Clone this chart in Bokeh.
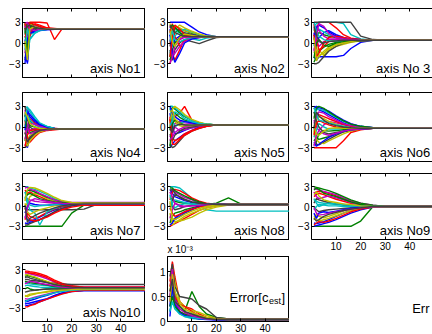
from bokeh.plotting import figure
from bokeh.models import Label, LinearAxis, FixedTicker, Range1d, Title
from bokeh.layouts import row, column
from bokeh.embed import file_html
from bokeh.resources import INLINE

# iteration index at which each trajectory value was read
X = [1, 2, 3, 5, 7, 10, 13, 16, 20, 25, 30, 50]

P1 = [
    [0.5, -3.0, 1.5, 2.2, 2.0, 2.0, 2.0, 2.0, 2.0, 2.0, 2.0, 2.0],
    [2.8, 0.0, 2.6, 2.4, 2.2, 2.1, 2.0, 2.0, 2.0, 2.0, 2.0, 2.0],
    [2.0, 2.9, 3.0, 3.0, 3.0, 2.9, 0.5, 2.0, 2.0, 2.0, 2.0, 2.0],
    [1.0, -1.0, 1.2, 1.6, 1.9, 2.0, 2.0, 2.0, 2.0, 2.0, 2.0, 2.0],
    [-1.5, 2.0, 2.4, 2.1, 2.0, 2.0, 2.0, 2.0, 2.0, 2.0, 2.0, 2.0],
    [3.0, 1.5, 2.7, 2.3, 2.1, 2.0, 2.0, 2.0, 2.0, 2.0, 2.0, 2.0],
    [-2.5, 1.0, 2.2, 2.0, 2.0, 2.0, 2.0, 2.0, 2.0, 2.0, 2.0, 2.0],
    [-2.0, -2.8, 1.8, 1.5, 1.8, 1.9, 2.0, 2.0, 2.0, 2.0, 2.0, 2.0],
    [1.5, 2.7, 2.9, 2.6, 2.3, 2.1, 2.0, 2.0, 2.0, 2.0, 2.0, 2.0],
    [3.0, -0.5, 1.0, 2.8, 2.6, 2.2, 2.1, 2.0, 2.0, 2.0, 2.0, 2.0],
    [0.0, -2.0, 0.5, 1.4, 1.8, 2.0, 2.0, 2.0, 2.0, 2.0, 2.0, 2.0],
    [2.5, 0.5, 1.8, 2.5, 2.2, 2.0, 2.0, 2.0, 2.0, 2.0, 2.0, 2.0],
    [-0.5, 2.5, 2.8, 2.2, 2.0, 2.0, 2.0, 2.0, 2.0, 2.0, 2.0, 2.0],
    [1.2, 2.9, 2.5, 2.1, 2.0, 2.0, 2.0, 2.0, 2.0, 2.0, 2.0, 2.0],
    [-3.0, 0.5, 1.4, 1.7, 1.9, 2.0, 2.0, 2.0, 2.0, 2.0, 2.0, 2.0],
    [2.2, -1.5, 2.4, 2.3, 2.1, 2.0, 2.0, 2.0, 2.0, 2.0, 2.0, 2.0],
    [0.8, 1.8, 2.9, 2.7, 2.4, 2.1, 2.0, 2.0, 2.0, 2.0, 2.0, 2.0],
    [-1.0, 2.2, 0.6, 1.5, 1.9, 2.0, 2.0, 2.0, 2.0, 2.0, 2.0, 2.0],
    [2.9, 3.0, 2.0, 1.8, 2.0, 2.0, 2.0, 2.0, 2.0, 2.0, 2.0, 2.0],
    [0.3, -2.5, 2.0, 2.4, 2.1, 2.0, 2.0, 2.0, 2.0, 2.0, 2.0, 2.0],
    [1.8, 2.4, 2.6, 2.3, 2.1, 2.0, 2.0, 2.0, 2.0, 2.0, 2.0, 2.0],
]

P2 = [
    [3.0, 3.0, 3.0, 3.0, 3.0, 2.3, 1.6, 1.2, 0.9, 0.9, 0.9, 0.9],
    [-2.0, 0.5, 1.5, 2.0, 1.8, 1.4, 1.1, 1.0, 0.9, 0.9, 0.9, 0.9],
    [-3.0, -1.5, -2.5, -1.0, 0.5, 0.8, 0.9, 0.9, 0.9, 0.9, 0.9, 0.9],
    [1.0, 2.5, 2.0, 1.5, 1.2, 0.6, 0.4, 0.7, 0.9, 0.9, 0.9, 0.9],
    [2.5, 1.0, 0.0, 0.5, 1.0, 1.2, 1.0, 0.9, 0.9, 0.9, 0.9, 0.9],
    [0.0, 2.0, 2.5, 2.2, 1.8, 1.5, 1.2, 1.0, 0.9, 0.9, 0.9, 0.9],
    [-1.0, -2.5, -1.0, 0.0, 0.5, 0.2, -0.1, 0.3, 0.8, 0.9, 0.9, 0.9],
    [2.0, -0.5, 0.5, 1.0, 1.4, 1.2, 1.0, 0.9, 0.9, 0.9, 0.9, 0.9],
    [-2.5, -1.0, 0.0, 0.8, 1.1, 1.0, 0.9, 0.9, 0.9, 0.9, 0.9, 0.9],
    [1.5, 2.8, 1.0, -0.5, 0.3, 0.7, 0.9, 0.9, 0.9, 0.9, 0.9, 0.9],
    [-1.5, 0.0, 1.0, 1.7, 2.0, 1.6, 1.2, 1.0, 0.9, 0.9, 0.9, 0.9],
    [0.5, -2.0, -1.5, -0.5, 0.2, 0.6, 0.8, 0.9, 0.9, 0.9, 0.9, 0.9],
    [2.8, 1.5, 2.0, 2.6, 2.2, 1.7, 1.3, 1.0, 0.9, 0.9, 0.9, 0.9],
    [-0.5, 1.0, 2.2, 1.8, 1.5, 1.2, 1.0, 0.9, 0.9, 0.9, 0.9, 0.9],
    [1.2, -1.5, -2.8, -1.5, 0.0, 0.6, 0.8, 0.9, 0.9, 0.9, 0.9, 0.9],
    [2.2, 2.6, 2.3, 1.5, 1.0, 0.9, 0.9, 0.9, 0.9, 0.9, 0.9, 0.9],
    [-2.0, 0.8, 2.6, 2.0, 1.2, 1.0, 0.9, 0.9, 0.9, 0.9, 0.9, 0.9],
    [0.2, 1.8, 0.5, 0.2, 0.5, 0.8, 0.9, 0.9, 0.9, 0.9, 0.9, 0.9],
    [-3.0, -2.0, -0.5, 0.5, 0.8, 0.9, 0.9, 0.9, 0.9, 0.9, 0.9, 0.9],
    [1.8, 0.2, -0.5, 0.8, 1.3, 1.1, 0.9, 0.9, 0.9, 0.9, 0.9, 0.9],
    [2.6, 2.0, 1.5, 1.2, 1.0, 0.9, 0.9, 0.9, 0.9, 0.9, 0.9, 0.9],
]

P3 = [
    [-2.0, -2.5, -2.0, -2.0, -2.0, -2.0, -1.8, -0.8, 0.1, 0.4, 0.4, 0.4],
    [2.0, 1.0, 1.5, 1.2, 1.0, 0.8, 0.6, 0.5, 0.4, 0.4, 0.4, 0.4],
    [1.0, 2.0, 3.0, 3.0, 3.0, 2.2, 1.2, 0.7, 0.5, 0.4, 0.4, 0.4],
    [2.5, 2.8, 3.0, 3.0, 3.0, 3.0, 2.8, 1.2, 0.6, 0.4, 0.4, 0.4],
    [-1.0, 0.5, -0.5, 0.2, 0.5, 0.6, 0.5, 0.4, 0.4, 0.4, 0.4, 0.4],
    [0.0, -1.5, -1.0, -1.8, -1.0, -0.5, -0.2, 0.1, 0.3, 0.4, 0.4, 0.4],
    [3.0, 3.0, 3.0, 3.0, 3.0, 3.0, 3.0, 3.0, 1.0, 0.5, 0.4, 0.4],
    [1.5, -0.5, 0.8, 1.5, 1.8, 1.2, 0.8, 0.6, 0.5, 0.4, 0.4, 0.4],
    [-2.8, -2.0, -1.2, -0.6, -0.2, 0.1, 0.3, 0.4, 0.4, 0.4, 0.4, 0.4],
    [2.8, 0.5, -1.0, -0.5, 0.2, 0.5, 0.6, 0.5, 0.4, 0.4, 0.4, 0.4],
    [-0.5, 1.5, 2.0, 1.6, 1.2, 0.9, 0.7, 0.5, 0.4, 0.4, 0.4, 0.4],
    [2.0, 2.5, 1.8, 1.0, 0.6, 0.5, 0.4, 0.4, 0.4, 0.4, 0.4, 0.4],
    [-1.5, -0.5, -2.0, -1.2, -0.6, -0.2, 0.1, 0.3, 0.4, 0.4, 0.4, 0.4],
    [-3.0, -3.0, -2.8, -2.0, -1.2, -0.5, 0.0, 0.2, 0.3, 0.4, 0.4, 0.4],
    [0.5, 2.2, 2.6, 2.2, 1.6, 1.0, 0.7, 0.5, 0.4, 0.4, 0.4, 0.4],
    [-2.2, 0.0, 0.5, -0.3, -0.5, 0.0, 0.2, 0.3, 0.4, 0.4, 0.4, 0.4],
    [1.2, -2.0, -1.5, 0.0, 0.8, 1.0, 0.8, 0.6, 0.5, 0.4, 0.4, 0.4],
    [3.0, 1.8, 1.0, 0.5, 0.3, 0.3, 0.4, 0.4, 0.4, 0.4, 0.4, 0.4],
    [-1.2, 1.0, 2.8, 2.4, 1.4, 0.8, 0.6, 0.5, 0.4, 0.4, 0.4, 0.4],
    [0.8, -2.6, -1.8, -1.5, -0.8, -0.3, 0.0, 0.2, 0.4, 0.4, 0.4, 0.4],
    [2.4, 1.2, 0.2, 0.0, 0.2, 0.3, 0.4, 0.4, 0.4, 0.4, 0.4, 0.4],
]

P4 = [
    [-2.5, -3.0, -1.5, -0.8, -0.5, -0.4, -0.3, -0.3, -0.3, -0.3, -0.3, -0.3],
    [2.0, 1.0, 0.8, 0.5, 0.2, 0.0, -0.2, -0.3, -0.3, -0.3, -0.3, -0.3],
    [3.0, 2.0, 1.2, 0.6, 0.3, -0.1, -0.2, -0.3, -0.3, -0.3, -0.3, -0.3],
    [2.8, 2.9, 2.2, 1.2, 0.5, 0.1, -0.2, -0.3, -0.3, -0.3, -0.3, -0.3],
    [-1.0, 0.5, -0.5, -0.2, -0.3, -0.3, -0.3, -0.3, -0.3, -0.3, -0.3, -0.3],
    [0.5, -1.8, -1.2, -0.9, -0.6, -0.4, -0.3, -0.3, -0.3, -0.3, -0.3, -0.3],
    [-3.0, -2.5, -1.8, -1.0, -0.6, -0.4, -0.3, -0.3, -0.3, -0.3, -0.3, -0.3],
    [1.5, 2.5, 1.5, 0.8, 0.3, 0.0, -0.2, -0.3, -0.3, -0.3, -0.3, -0.3],
    [-2.0, -0.5, 0.2, 0.0, -0.2, -0.3, -0.3, -0.3, -0.3, -0.3, -0.3, -0.3],
    [1.0, -1.5, -2.2, -1.4, -0.8, -0.5, -0.4, -0.3, -0.3, -0.3, -0.3, -0.3],
    [0.0, 1.8, 1.0, 0.3, 0.0, -0.2, -0.3, -0.3, -0.3, -0.3, -0.3, -0.3],
    [2.5, 0.0, 0.5, 0.4, 0.1, -0.1, -0.2, -0.3, -0.3, -0.3, -0.3, -0.3],
    [-1.5, -2.8, -2.0, -1.2, -0.7, -0.4, -0.3, -0.3, -0.3, -0.3, -0.3, -0.3],
    [3.0, 1.2, 0.0, -0.5, -0.5, -0.4, -0.3, -0.3, -0.3, -0.3, -0.3, -0.3],
    [-0.5, 2.2, 1.8, 1.0, 0.4, 0.0, -0.2, -0.3, -0.3, -0.3, -0.3, -0.3],
    [1.8, -0.8, -0.8, -0.6, -0.4, -0.3, -0.3, -0.3, -0.3, -0.3, -0.3, -0.3],
    [-2.8, -1.2, -0.5, -0.4, -0.3, -0.3, -0.3, -0.3, -0.3, -0.3, -0.3, -0.3],
    [0.8, 2.8, 2.5, 1.5, 0.6, 0.1, -0.2, -0.3, -0.3, -0.3, -0.3, -0.3],
    [-1.8, 0.0, -1.0, -0.7, -0.5, -0.4, -0.3, -0.3, -0.3, -0.3, -0.3, -0.3],
    [2.2, 1.5, 0.5, 0.0, -0.2, -0.3, -0.3, -0.3, -0.3, -0.3, -0.3, -0.3],
    [-0.8, -2.2, -1.5, -0.9, -0.5, -0.3, -0.3, -0.3, -0.3, -0.3, -0.3, -0.3],
]

P5 = [
    [-3.0, -2.5, -2.0, -1.5, -1.0, -0.5, 0.0, 0.2, 0.3, 0.3, 0.3, 0.3],
    [2.5, 2.8, 2.6, 2.0, 1.5, 1.0, 0.6, 0.4, 0.3, 0.3, 0.3, 0.3],
    [1.0, 0.5, 1.5, 2.0, 3.0, 1.0, 0.5, 0.3, 0.3, 0.3, 0.3, 0.3],
    [3.0, 3.0, 2.8, 2.2, 1.6, 1.0, 0.6, 0.4, 0.3, 0.3, 0.3, 0.3],
    [-1.5, -0.5, 0.5, 0.8, 0.6, 0.5, 0.4, 0.3, 0.3, 0.3, 0.3, 0.3],
    [0.0, 1.5, 0.8, 0.2, 0.0, 0.1, 0.2, 0.3, 0.3, 0.3, 0.3, 0.3],
    [-2.5, -3.0, -2.8, -2.0, -1.2, -0.6, -0.2, 0.1, 0.3, 0.3, 0.3, 0.3],
    [2.0, 0.0, -1.0, -0.8, -0.5, -0.1, 0.1, 0.2, 0.3, 0.3, 0.3, 0.3],
    [-0.5, 2.2, 2.0, 1.4, 1.0, 0.7, 0.5, 0.4, 0.3, 0.3, 0.3, 0.3],
    [1.5, -1.5, -2.0, -1.6, -1.0, -0.5, -0.1, 0.1, 0.3, 0.3, 0.3, 0.3],
    [2.8, 1.0, 0.0, 0.5, 0.8, 0.7, 0.5, 0.4, 0.3, 0.3, 0.3, 0.3],
    [-2.0, -1.0, 0.0, -0.5, -0.4, -0.1, 0.1, 0.2, 0.3, 0.3, 0.3, 0.3],
    [0.5, 2.6, 3.0, 2.5, 1.8, 1.1, 0.7, 0.4, 0.3, 0.3, 0.3, 0.3],
    [-1.0, -2.0, -1.2, -0.6, -0.2, 0.0, 0.2, 0.3, 0.3, 0.3, 0.3, 0.3],
    [3.0, 2.0, 1.5, 1.0, 0.8, 0.6, 0.4, 0.3, 0.3, 0.3, 0.3, 0.3],
    [-2.8, 0.5, 1.0, 0.6, 0.3, 0.2, 0.3, 0.3, 0.3, 0.3, 0.3, 0.3],
    [1.2, -2.5, -2.5, -1.8, -1.2, -0.6, -0.2, 0.1, 0.3, 0.3, 0.3, 0.3],
    [0.2, 1.0, 2.2, 1.8, 1.2, 0.8, 0.5, 0.4, 0.3, 0.3, 0.3, 0.3],
    [-1.8, -1.5, -0.8, -0.3, 0.0, 0.2, 0.3, 0.3, 0.3, 0.3, 0.3, 0.3],
    [2.2, 2.4, 1.2, 0.5, 0.2, 0.2, 0.3, 0.3, 0.3, 0.3, 0.3, 0.3],
    [-0.2, -0.8, 0.2, 0.4, 0.3, 0.3, 0.3, 0.3, 0.3, 0.3, 0.3, 0.3],
]

P6 = [
    [3.0, 2.8, 2.5, 2.2, 1.8, 1.2, 0.6, 0.2, 0.0, -0.1, -0.2, -0.2],
    [-2.0, -1.5, -1.8, -1.6, -1.4, -1.0, -0.7, -0.5, -0.3, -0.2, -0.2, -0.2],
    [-3.0, -3.0, -3.0, -3.0, -3.0, -3.0, -2.0, -0.8, -0.4, -0.2, -0.2, -0.2],
    [2.0, 2.5, 2.6, 2.4, 2.0, 1.4, 0.8, 0.4, 0.1, -0.1, -0.2, -0.2],
    [1.0, 0.0, -0.5, 0.3, 0.8, 0.6, 0.3, 0.1, -0.1, -0.2, -0.2, -0.2],
    [-1.0, 1.0, 1.5, 1.2, 0.8, 0.4, 0.1, -0.1, -0.2, -0.2, -0.2, -0.2],
    [0.0, -2.5, -2.6, -2.2, -1.8, -1.2, -0.7, -0.4, -0.3, -0.2, -0.2, -0.2],
    [2.6, 3.0, 2.8, 2.6, 2.3, 1.6, 1.0, 0.5, 0.1, -0.1, -0.2, -0.2],
    [-2.6, -2.0, -1.0, -0.5, -0.6, -0.5, -0.4, -0.3, -0.2, -0.2, -0.2, -0.2],
    [1.5, 2.0, 1.8, 1.5, 1.2, 0.8, 0.4, 0.1, -0.1, -0.2, -0.2, -0.2],
    [-1.5, -0.5, 0.5, 0.0, -0.3, -0.3, -0.2, -0.2, -0.2, -0.2, -0.2, -0.2],
    [0.5, 1.5, 2.2, 2.0, 1.5, 1.0, 0.5, 0.2, 0.0, -0.1, -0.2, -0.2],
    [-0.5, -1.8, -2.2, -2.4, -2.0, -1.5, -1.0, -0.6, -0.3, -0.2, -0.2, -0.2],
    [2.2, 0.8, 0.0, -0.8, -1.0, -0.8, -0.6, -0.4, -0.3, -0.2, -0.2, -0.2],
    [-2.2, -2.8, -2.5, -2.0, -1.5, -1.0, -0.6, -0.4, -0.3, -0.2, -0.2, -0.2],
    [1.2, 2.8, 3.0, 2.7, 2.2, 1.5, 0.9, 0.4, 0.1, -0.1, -0.2, -0.2],
    [-1.2, 0.5, 1.0, 0.6, 0.3, 0.0, -0.1, -0.2, -0.2, -0.2, -0.2, -0.2],
    [2.8, 1.8, 1.0, 0.8, 0.6, 0.3, 0.1, -0.1, -0.2, -0.2, -0.2, -0.2],
    [-2.8, -1.2, -0.5, -1.0, -1.2, -0.9, -0.6, -0.4, -0.3, -0.2, -0.2, -0.2],
    [0.2, -1.0, -1.2, -0.6, -0.2, -0.1, -0.2, -0.2, -0.2, -0.2, -0.2, -0.2],
    [-0.2, 2.2, 1.6, 1.0, 0.5, 0.2, 0.0, -0.1, -0.2, -0.2, -0.2, -0.2],
]

P7 = [
    [-2.5, -2.6, -2.4, -2.2, -2.0, -1.5, -0.8, -0.3, 0.1, 0.3, 0.3, 0.3],
    [-3.0, -3.0, -3.0, -3.0, -3.0, -3.0, -3.0, -3.0, -1.0, 0.2, 0.3, 0.3],
    [2.5, 2.0, 2.2, 1.8, 1.5, 1.0, 0.6, 0.4, 0.4, 0.4, 0.4, 0.4],
    [3.0, 3.0, 2.8, 2.6, 2.3, 1.8, 1.2, 0.8, 0.5, 0.4, 0.4, 0.4],
    [1.0, 1.2, 1.0, 0.8, 0.7, 0.6, 0.5, 0.5, 0.5, 0.5, 0.5, 0.5],
    [0.0, 0.5, 1.5, 2.0, 1.8, 1.2, 0.8, 0.6, 0.5, 0.5, 0.5, 0.5],
    [-0.5, -0.5, -0.5, -0.5, -0.5, -0.5, -0.5, -0.5, -0.5, -0.4, 0.3, 0.3],
    [-1.5, -2.0, -2.2, -2.0, -1.6, -1.0, -0.5, 0.0, 0.2, 0.3, 0.3, 0.3],
    [2.0, 2.4, 2.5, 2.2, 1.9, 1.4, 1.0, 0.7, 0.5, 0.5, 0.5, 0.5],
    [-2.0, -1.0, -1.5, -1.8, -1.5, -0.9, -0.4, 0.0, 0.2, 0.3, 0.3, 0.3],
    [1.5, 0.5, -0.5, -1.0, -2.8, -0.8, -0.3, 0.1, 0.3, 0.3, 0.3, 0.3],
    [2.8, 2.9, 2.6, 2.4, 2.0, 1.5, 1.0, 0.7, 0.6, 0.6, 0.6, 0.6],
    [0.5, -0.8, -1.2, -0.8, -0.5, -0.2, 0.1, 0.2, 0.3, 0.3, 0.3, 0.3],
    [-2.8, -2.8, -2.6, -2.3, -2.0, -1.4, -0.8, -0.3, 0.1, 0.3, 0.3, 0.3],
    [-1.0, 0.0, 0.5, 0.3, 0.2, 0.2, 0.3, 0.3, 0.3, 0.3, 0.3, 0.3],
    [1.2, 1.8, 2.0, 1.6, 1.2, 0.9, 0.7, 0.6, 0.5, 0.5, 0.5, 0.5],
    [-0.2, -1.5, -2.0, -2.2, -2.0, -1.6, -1.0, -0.5, -0.1, 0.2, 0.2, 0.2],
    [2.2, 1.0, 0.2, 0.0, 0.1, 0.2, 0.3, 0.4, 0.4, 0.4, 0.4, 0.4],
    [-1.8, -0.2, 0.8, 1.2, 1.0, 0.8, 0.6, 0.5, 0.4, 0.4, 0.4, 0.4],
    [0.8, 2.6, 2.9, 2.8, 2.5, 2.0, 1.4, 0.9, 0.6, 0.5, 0.5, 0.5],
    [0.2, -2.4, -1.8, -1.4, -1.0, -0.6, -0.2, 0.1, 0.3, 0.4, 0.4, 0.4],
]

P8 = [
    [-2.0, -2.2, -2.0, -1.5, -1.0, -0.5, 0.0, 0.2, 0.3, 0.3, 0.3, 0.3],
    [1.5, 1.0, 0.8, 0.6, 0.5, 0.4, 0.3, 0.3, 0.5, 1.3, 0.4, 0.3],
    [-3.0, -2.8, -2.6, -2.2, -1.8, -1.2, -0.6, -0.2, 0.1, 0.3, 0.3, 0.3],
    [3.0, 3.0, 3.0, 2.8, 2.2, 1.2, 0.2, -0.5, -0.7, -0.7, -0.7, -0.7],
    [2.0, 2.5, 2.2, 1.8, 1.4, 1.0, 0.6, 0.4, 0.3, 0.3, 0.3, 0.3],
    [-1.5, -2.0, -2.3, -2.2, -2.0, -1.6, -1.0, -0.5, -0.1, 0.2, 0.3, 0.3],
    [0.5, 0.0, -0.5, -0.3, 0.0, 0.2, 0.3, 0.3, 0.3, 0.3, 0.3, 0.3],
    [2.6, 2.0, 1.5, 1.2, 0.9, 0.6, 0.4, 0.3, 0.3, 0.3, 0.3, 0.3],
    [-2.5, -1.5, -1.0, -0.8, -0.5, -0.2, 0.1, 0.2, 0.3, 0.3, 0.3, 0.3],
    [1.0, 2.2, 2.6, 2.4, 2.0, 1.3, 0.8, 0.5, 0.3, 0.3, 0.3, 0.3],
    [-0.5, 0.5, 1.0, 0.8, 0.6, 0.4, 0.3, 0.3, 0.3, 0.3, 0.3, 0.3],
    [2.2, 1.5, 0.5, 0.0, 0.0, 0.1, 0.2, 0.3, 0.3, 0.3, 0.3, 0.3],
    [-1.0, -2.8, -2.5, -2.0, -1.5, -1.0, -0.6, -0.2, 0.1, 0.3, 0.3, 0.3],
    [0.0, 1.0, 1.8, 1.5, 1.1, 0.7, 0.5, 0.4, 0.3, 0.3, 0.3, 0.3],
    [-2.8, -2.5, -1.8, -1.2, -0.8, -0.4, 0.0, 0.2, 0.3, 0.3, 0.3, 0.3],
    [2.8, 2.8, 2.4, 2.0, 1.6, 1.1, 0.7, 0.4, 0.3, 0.3, 0.3, 0.3],
    [-0.2, -1.0, -1.5, -1.2, -0.8, -0.4, -0.1, 0.1, 0.3, 0.3, 0.3, 0.3],
    [1.8, 0.2, -0.2, 0.2, 0.4, 0.4, 0.3, 0.3, 0.3, 0.3, 0.3, 0.3],
    [-1.8, -0.5, 0.5, 0.2, 0.0, 0.1, 0.2, 0.3, 0.3, 0.3, 0.3, 0.3],
    [0.8, -1.8, -2.0, -1.6, -1.2, -0.7, -0.3, 0.0, 0.2, 0.3, 0.3, 0.3],
    [2.4, 2.6, 2.0, 1.4, 1.0, 0.7, 0.5, 0.4, 0.3, 0.3, 0.3, 0.3],
]

P9 = [
    [-2.5, -2.6, -2.5, -2.3, -2.0, -1.5, -1.0, -0.6, -0.2, 0.0, 0.0, 0.0],
    [-3.0, -3.0, -3.0, -3.0, -3.0, -3.0, -3.0, -3.0, -2.2, 0.0, 0.0, 0.0],
    [2.0, 2.2, 2.3, 2.2, 2.0, 1.6, 1.2, 0.8, 0.4, 0.1, 0.0, 0.0],
    [1.0, 0.8, 0.6, 0.5, 0.4, 0.3, 0.2, 0.1, 0.0, 0.0, 0.0, 0.0],
    [2.8, 2.6, 2.5, 2.3, 2.1, 1.8, 1.3, 0.9, 0.5, 0.2, 0.0, 0.0],
    [-1.5, -2.0, -2.2, -2.0, -1.8, -1.4, -1.0, -0.6, -0.3, -0.1, 0.0, 0.0],
    [0.0, -0.5, -0.8, -0.6, -0.5, -0.4, -0.3, -0.2, -0.1, 0.0, 0.0, 0.0],
    [-3.0, -2.9, -2.8, -2.6, -2.4, -2.0, -1.5, -1.0, -0.5, -0.1, 0.0, 0.0],
    [3.0, 2.9, 2.8, 2.6, 2.4, 2.0, 1.5, 1.0, 0.5, 0.2, 0.0, 0.0],
    [1.5, 1.8, 2.0, 1.8, 1.5, 1.1, 0.8, 0.5, 0.3, 0.1, 0.0, 0.0],
    [-0.5, 0.0, 0.3, 0.2, 0.1, 0.1, 0.0, 0.0, 0.0, 0.0, 0.0, 0.0],
    [2.2, 1.5, 1.2, 1.4, 1.6, 1.3, 1.0, 0.6, 0.3, 0.1, 0.0, 0.0],
    [-2.0, -1.2, -1.5, -1.7, -1.5, -1.1, -0.7, -0.4, -0.2, 0.0, 0.0, 0.0],
    [0.5, 1.2, 1.0, 0.8, 0.6, 0.4, 0.3, 0.2, 0.1, 0.0, 0.0, 0.0],
    [-1.0, -1.8, -1.0, -0.8, -0.9, -0.7, -0.5, -0.3, -0.1, 0.0, 0.0, 0.0],
    [2.5, 2.8, 2.6, 2.0, 1.8, 1.5, 1.1, 0.7, 0.3, 0.1, 0.0, 0.0],
    [-2.8, -2.5, -2.3, -2.4, -2.2, -1.8, -1.3, -0.8, -0.4, -0.1, 0.0, 0.0],
    [1.2, 0.5, 0.0, 0.3, 0.5, 0.4, 0.3, 0.2, 0.1, 0.0, 0.0, 0.0],
    [-0.2, -1.0, -1.3, -1.2, -1.0, -0.8, -0.6, -0.4, -0.2, -0.1, 0.0, 0.0],
    [1.8, 2.2, 1.6, 1.0, 0.8, 0.6, 0.4, 0.3, 0.1, 0.0, 0.0, 0.0],
    [-1.8, -2.2, -2.0, -1.5, -1.2, -0.9, -0.6, -0.4, -0.2, 0.0, 0.0, 0.0],
]

P10 = [
    [-2.2, -2.3, -2.2, -2.0, -1.8, -1.5, -1.0, -0.6, -0.3, -0.2, -0.2, -0.2],
    [2.0, 2.1, 2.0, 1.8, 1.5, 1.1, 0.7, 0.4, 0.2, 0.1, 0.1, 0.1],
    [2.8, 2.8, 2.7, 2.6, 2.4, 2.0, 1.4, 0.9, 0.5, 0.3, 0.3, 0.3],
    [1.0, 0.9, 0.8, 0.7, 0.6, 0.5, 0.4, 0.3, 0.2, 0.2, 0.2, 0.2],
    [2.5, 2.5, 2.4, 2.2, 2.0, 1.6, 1.1, 0.7, 0.4, 0.3, 0.3, 0.3],
    [-1.0, -1.2, -1.0, -0.8, -0.6, -0.4, -0.2, -0.1, 0.0, 0.0, 0.0, 0.0],
    [1.5, 1.5, 1.4, 1.3, 1.2, 1.0, 0.9, 0.8, 0.7, 0.7, 0.7, 0.7],
    [-2.5, -2.6, -2.5, -2.3, -2.0, -1.6, -1.1, -0.7, -0.4, -0.3, -0.3, -0.3],
    [0.0, 0.2, 0.0, -0.2, -0.1, 0.0, 0.1, 0.1, 0.1, 0.1, 0.1, 0.1],
    [-2.8, -2.8, -2.6, -2.4, -2.0, -1.6, -1.2, -0.8, -0.4, -0.2, -0.2, -0.2],
    [0.5, 0.6, 0.5, 0.4, 0.3, 0.2, 0.2, 0.2, 0.2, 0.2, 0.2, 0.2],
    [-1.5, -1.6, -1.5, -1.3, -1.1, -0.8, -0.5, -0.3, -0.1, 0.0, 0.0, 0.0],
    [2.2, 2.3, 2.1, 1.9, 1.6, 1.2, 0.8, 0.5, 0.3, 0.2, 0.2, 0.2],
    [-0.5, -0.4, -0.3, -0.2, -0.1, 0.0, 0.0, 0.0, 0.0, 0.0, 0.0, 0.0],
    [-1.8, -2.0, -1.8, -1.6, -1.3, -1.0, -0.6, -0.3, -0.1, 0.0, 0.0, 0.0],
    [1.2, 1.1, 1.0, 0.9, 0.8, 0.6, 0.4, 0.3, 0.2, 0.2, 0.2, 0.2],
    [2.7, 2.6, 2.5, 2.4, 2.2, 1.8, 1.2, 0.7, 0.4, 0.3, 0.3, 0.3],
    [-2.0, -1.8, -1.6, -1.4, -1.2, -0.9, -0.6, -0.4, -0.2, -0.1, -0.1, -0.1],
    [0.8, 1.0, 1.2, 1.1, 0.9, 0.7, 0.5, 0.3, 0.2, 0.2, 0.2, 0.2],
    [-1.2, -1.0, -0.8, -0.7, -0.6, -0.5, -0.3, -0.2, -0.1, 0.0, 0.0, 0.0],
    [1.8, 1.9, 1.7, 1.5, 1.3, 1.0, 0.7, 0.5, 0.3, 0.2, 0.2, 0.2],
]

# Error[c_est], in units of 1e-3
E = [
    [0.3, 1.0, 0.5, 0.2, 0.12, 0.08, 0.06, 0.05, 0.04, 0.03, 0.03, 0.03],
    [0.5, 0.8, 0.6, 0.3, 0.2, 0.6, 0.3, 0.15, 0.08, 0.05, 0.05, 0.05],
    [0.8, 1.2, 0.9, 0.4, 0.3, 0.25, 0.15, 0.08, 0.05, 0.04, 0.04, 0.04],
    [0.2, 0.6, 0.3, 0.15, 0.1, 0.06, 0.05, 0.05, 0.04, 0.04, 0.04, 0.04],
    [0.4, 0.9, 0.4, 0.2, 0.15, 0.1, 0.08, 0.05, 0.04, 0.04, 0.04, 0.04],
    [0.6, 1.1, 0.8, 0.4, 0.3, 0.22, 0.18, 0.12, 0.06, 0.04, 0.04, 0.04],
    [0.9, 1.15, 0.7, 0.5, 0.48, 0.45, 0.32, 0.25, 0.08, 0.05, 0.05, 0.05],
    [0.1, 0.7, 0.35, 0.18, 0.12, 0.08, 0.05, 0.04, 0.03, 0.03, 0.03, 0.03],
    [0.3, 0.5, 0.3, 0.2, 0.15, 0.12, 0.1, 0.07, 0.05, 0.04, 0.04, 0.04],
    [0.7, 1.0, 0.5, 0.35, 0.3, 0.2, 0.12, 0.07, 0.05, 0.04, 0.04, 0.04],
    [0.2, 0.4, 0.25, 0.15, 0.1, 0.08, 0.06, 0.05, 0.04, 0.04, 0.04, 0.04],
    [0.5, 1.05, 0.45, 0.25, 0.18, 0.12, 0.08, 0.05, 0.04, 0.04, 0.04, 0.04],
    [0.4, 0.95, 0.6, 0.35, 0.25, 0.18, 0.12, 0.08, 0.05, 0.04, 0.04, 0.04],
    [0.6, 0.85, 0.4, 0.3, 0.2, 0.15, 0.1, 0.06, 0.04, 0.04, 0.04, 0.04],
]

NAMES = ["axis No1", "axis No2", "axis No 3", "axis No4", "axis No5",
         "axis No6", "axis No7", "axis No8", "axis No9", "axis No10"]
X_TICKS = [10, 20, 30, 40]
Y_TICKS = [-3, 0, 3]
Y_LABELS = {-3: "\u22123", 0: "0", 3: "3"}
E_TICKS = [0, 0.5, 1]
E_LABELS = {0: "0", 0.5: "0.5", 1: "1"}
E_SCALE = "x 10\u207b\u00b3"

FONT = "Liberation Sans"
COLORS = ["#0000ff", "#008000", "#ff0000", "#00bfbf", "#bf00bf", "#bfbf00", "#404040"]


def style(ax, ticks, show, over=None):
    ax.ticker = FixedTicker(ticks=ticks)
    ax.axis_line_color = "black"
    ax.axis_line_width = 1
    ax.major_tick_line_color = "black"
    ax.major_tick_in = 3
    ax.major_tick_out = 0
    ax.minor_tick_line_color = None
    ax.major_label_text_font = FONT
    if show:
        ax.major_label_text_color = "black"
        ax.major_label_text_font_size = "10px"
        ax.major_label_standoff = 2
        if over:
            ax.major_label_overrides = over
    else:
        ax.major_label_text_color = None
        ax.major_label_text_alpha = 0
        ax.major_label_text_font_size = "1px"
        ax.major_label_standoff = 0


def panel(lines, w, h, bl, br, bt, bb, xmax, yr, yticks, ylab, show_x, cut=False):
    p = figure(width=w, height=h, x_range=Range1d(0, xmax), y_range=Range1d(*yr),
               output_backend="svg", toolbar_location=None,
               min_border_left=bl, min_border_right=br,
               min_border_top=bt, min_border_bottom=bb)
    p.grid.visible = False
    p.background_fill_color = "white"
    p.border_fill_color = "white"
    style(p.xaxis[0], X_TICKS, show_x)
    style(p.yaxis[0], yticks, True, ylab)
    top = LinearAxis()
    style(top, X_TICKS, False)
    p.add_layout(top, "above")
    if cut:
        # right side of this column is cut by the window edge: no right border
        p.outline_line_color = None
    else:
        p.outline_line_color = "black"
        p.outline_line_width = 1
    p.multi_line(xs=[X] * len(lines), ys=lines,
                 line_color=[COLORS[i % 7] for i in range(len(lines))], line_width=1.4)
    return p


def tag(p, text, x, y=-3.65):
    p.add_layout(Label(x=x, y=y, text=text, text_align="right", text_baseline="alphabetic",
                       text_font=FONT, text_font_size="13px", text_color="black"))


YR = (-5, 5)
C3X = 49.2
# column 1: x 0-145
f1 = panel(P1, 145, 84, 22, 0, 8, 7, 50, YR, Y_TICKS, Y_LABELS, False)
f4 = panel(P4, 145, 83, 22, 0, 8, 6, 50, YR, Y_TICKS, Y_LABELS, False)
f7 = panel(P7, 145, 82, 22, 0, 6, 10, 50, YR, Y_TICKS, Y_LABELS, False)
f10 = panel(P10, 145, 85, 22, 0, 14, 12, 50, (-5.1, 4.0), Y_TICKS, Y_LABELS, True)
# column 2: x 145-289
f2 = panel(P2, 144, 84, 22, 0, 8, 7, 50, YR, Y_TICKS, Y_LABELS, False)
f5 = panel(P5, 144, 83, 22, 0, 8, 6, 50, YR, Y_TICKS, Y_LABELS, False)
f8 = panel(P8, 144, 73, 22, 0, 6, 1, 50, YR, Y_TICKS, Y_LABELS, False)
fe = panel(E, 144, 94, 22, 0, 14, 13, 50, (0, 1.3), E_TICKS, E_LABELS, True)
# column 3: x 289-432 (cut by the window edge)
f3 = panel(P3, 143, 84, 22, 0, 8, 7, C3X, YR, Y_TICKS, Y_LABELS, False, cut=True)
f6 = panel(P6, 143, 83, 22, 0, 8, 6, C3X, YR, Y_TICKS, Y_LABELS, False, cut=True)
f9 = panel(P9, 143, 87, 22, 0, 6, 15, C3X, YR, Y_TICKS, Y_LABELS, True, cut=True)

for fig, name in [(f1, NAMES[0]), (f2, NAMES[1]), (f4, NAMES[3]), (f5, NAMES[4]),
                  (f7, NAMES[6]), (f8, NAMES[7]), (f10, NAMES[9])]:
    tag(fig, name, 48)
for fig, name in [(f3, NAMES[2]), (f6, NAMES[5]), (f9, NAMES[8])]:
    tag(fig, name, C3X - 0.9)

fe.add_layout(Label(x=25.4, y=0.49, text="Error[c", text_align="left", text_baseline="alphabetic",
                    text_font=FONT, text_font_size="13px", text_color="black"))
fe.add_layout(Label(x=25.4, y=0.49, x_offset=39.5, y_offset=-4, text="est", text_align="left",
                    text_baseline="alphabetic", text_font=FONT, text_font_size="9px",
                    text_color="black"))
fe.add_layout(Label(x=25.4, y=0.49, x_offset=52, text="]", text_align="left",
                    text_baseline="alphabetic", text_font=FONT, text_font_size="13px",
                    text_color="black"))
# axis multiplier shown above the error panel
fe.add_layout(Title(text=E_SCALE, align="left", text_font=FONT, text_font_size="10px",
                    text_font_style="normal", text_color="black", standoff=3, offset=0),
              "above")

f12 = figure(width=143, height=80, x_range=Range1d(0, 143), y_range=Range1d(0, 80),
             x_axis_type=None, y_axis_type=None, output_backend="svg", toolbar_location=None,
             min_border=0)
f12.grid.visible = False
f12.outline_line_color = None
f12.add_layout(Label(x=119, y=26, text="Err", text_align="left", text_baseline="alphabetic",
                     text_font=FONT, text_font_size="13px", text_color="black"))

layout = row(column(f1, f4, f7, f10), column(f2, f5, f8, fe), column(f3, f6, f9, f12))

open("out.html", "w").write(file_html(layout, INLINE))
